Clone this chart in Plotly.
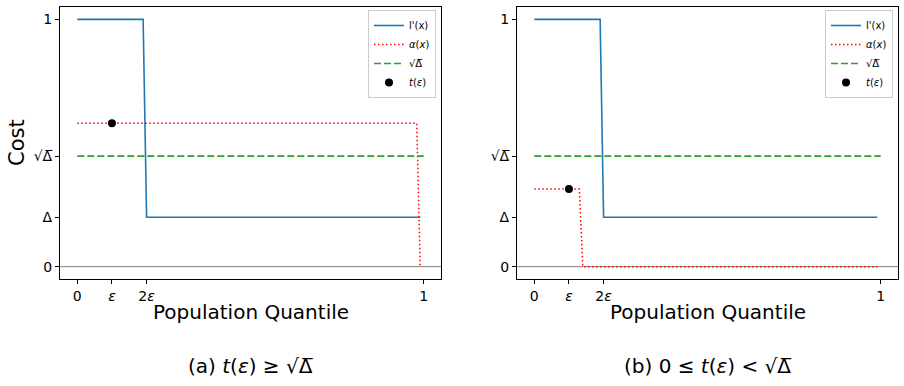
import plotly.graph_objects as go

W, H = 904, 386

# ---- data ----
delta = 0.2
sqrt_delta = 0.447
eps = 0.1

# l'(x): step function, same in both panels
lp_x = [0.0, 0.19, 0.20, 0.99]
lp_y = [1.0, 1.0, delta, delta]

# alpha(x), panel (a)
alpha_a_x = [0.0, 0.98, 0.99]
alpha_a_y = [0.58, 0.58, 0.0]
# alpha(x), panel (b)
alpha_b_x = [0.0, 0.13, 0.14, 0.99]
alpha_b_y = [0.314, 0.314, 0.0, 0.0]

# sqrt(Delta) reference line
sd_x = [0.0, 1.0]
sd_y = [sqrt_delta, sqrt_delta]

# t(eps) point
t_a = 0.58
t_b = 0.314

xtick_vals = [0, eps, 2 * eps, 1]
xtick_text = ["0", "<i>ε</i>", "2<i>ε</i>", "1"]
ytick_vals = [0, delta, sqrt_delta, 1]
ytick_text = ["0", "Δ", "√Δ\u0305", "1"]

captions = ["(a) <i>t</i>(<i>ε</i>) ≥ √Δ\u0305", "(b) 0 ≤ <i>t</i>(<i>ε</i>) < √Δ\u0305"]

FONT = "DejaVu Sans"
BLUE = "#1f77b4"
RED = "#ff0000"
GREEN = "#2ca02c"

fig = go.Figure()

panels = [
    dict(ax="x", ay="y", leg="legend", ax_x=alpha_a_x, ax_y=alpha_a_y, t=t_a),
    dict(ax="x2", ay="y2", leg="legend2", ax_x=alpha_b_x, ax_y=alpha_b_y, t=t_b),
]

for p in panels:
    fig.add_trace(go.Scatter(x=lp_x, y=lp_y, mode="lines", name="l'(x)",
                             line=dict(color=BLUE, width=1.6),
                             xaxis=p["ax"], yaxis=p["ay"], legend=p["leg"]))
    fig.add_trace(go.Scatter(x=p["ax_x"], y=p["ax_y"], mode="lines",
                             name="<i>α</i>(<i>x</i>)",
                             line=dict(color=RED, width=1.5, dash="1.5px,2.5px"),
                             xaxis=p["ax"], yaxis=p["ay"], legend=p["leg"]))
    fig.add_trace(go.Scatter(x=sd_x, y=sd_y, mode="lines", name="√Δ\u0305",
                             line=dict(color=GREEN, width=1.6, dash="7px,3px"),
                             xaxis=p["ax"], yaxis=p["ay"], legend=p["leg"]))
    fig.add_trace(go.Scatter(x=[eps], y=[p["t"]], mode="markers",
                             name="<i>t</i>(<i>ε</i>)",
                             marker=dict(color="black", size=8),
                             xaxis=p["ax"], yaxis=p["ay"], legend=p["leg"]))
    fig.add_shape(type="line", xref=p["ax"] + " domain", yref=p["ay"],
                  x0=0, x1=1, y0=0, y1=0, line=dict(color="gray", width=1),
                  layer="below")

ydom = [(H - 279) / H, (H - 7) / H]
xdoms = [[60 / W, 441 / W], [517 / W, 898 / W]]

axis_common = dict(showline=True, mirror=True, linecolor="black", linewidth=1,
                   ticks="outside", ticklen=4, tickcolor="black", showgrid=False,
                   zeroline=False, tickfont=dict(family=FONT, size=14, color="black"))

fig.update_layout(
    xaxis=dict(domain=xdoms[0], range=[-0.05, 1.05], tickvals=xtick_vals,
               ticktext=xtick_text, anchor="y", **axis_common),
    yaxis=dict(domain=ydom, range=[-0.05, 1.05], tickvals=ytick_vals,
               ticktext=ytick_text, anchor="x", **axis_common),
    xaxis2=dict(domain=xdoms[1], range=[-0.05, 1.05], tickvals=xtick_vals,
                ticktext=xtick_text, anchor="y2", **axis_common),
    yaxis2=dict(domain=ydom, range=[-0.05, 1.05], tickvals=ytick_vals,
                ticktext=ytick_text, anchor="x2", **axis_common),
)

legend_common = dict(bgcolor="white", bordercolor="#cccccc", borderwidth=1,
                     font=dict(family=FONT, size=10, color="black"),
                     xanchor="right", yanchor="top", itemwidth=30,
                     tracegroupgap=0)
fig.update_layout(
    legend=dict(x=436 / W, y=(H - 10) / H, **legend_common),
    legend2=dict(x=893 / W, y=(H - 10) / H, **legend_common),
)

annotations = []
for i, cap in enumerate(captions):
    cx = (xdoms[i][0] + xdoms[i][1]) / 2
    annotations.append(dict(text="Population Quantile", x=cx, y=(H - 312) / H,
                            xref="paper", yref="paper", showarrow=False,
                            xanchor="center", yanchor="middle",
                            font=dict(family=FONT, size=20, color="black")))
    annotations.append(dict(text=cap, x=cx, y=(H - 366) / H,
                            xref="paper", yref="paper", showarrow=False,
                            xanchor="center", yanchor="middle",
                            font=dict(family=FONT, size=20, color="black")))
annotations.append(dict(text="Cost", x=17 / W, y=(H - 143) / H, textangle=-90,
                        xref="paper", yref="paper", showarrow=False,
                        xanchor="center", yanchor="middle",
                        font=dict(family=FONT, size=21, color="black")))

fig.update_layout(
    width=W, height=H, margin=dict(l=0, r=0, t=0, b=0),
    paper_bgcolor="white", plot_bgcolor="white",
    annotations=annotations, showlegend=True,
    font=dict(family=FONT, color="black"),
)

fig.write_html("out.html", config={"displayModeBar": False},
               post_script="document.body.style.margin='0';document.body.style.overflow='hidden';")
